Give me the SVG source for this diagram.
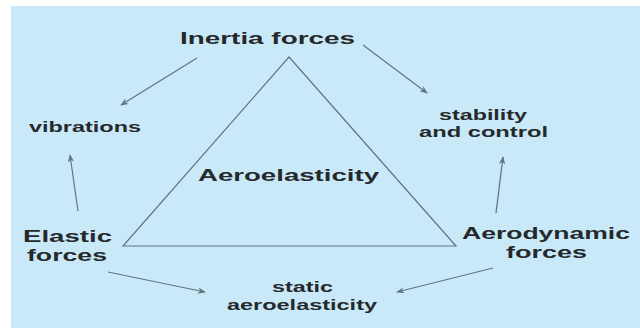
<svg xmlns="http://www.w3.org/2000/svg" width="640" height="329" viewBox="0 0 640 329">
<style>
.t{font-family:"Liberation Sans",Arial,sans-serif;font-weight:bold;fill:#26292b;text-anchor:middle}
.big{font-size:17px}
.two{font-size:16.5px}
.sm{font-size:15px}
.ln{stroke:#5f7580;stroke-width:1.2;fill:none}
</style>
<defs>
<marker id="ah" viewBox="0 0 10 8" refX="9" refY="4" markerWidth="8" markerHeight="6.4" markerUnits="userSpaceOnUse" orient="auto">
<path d="M0,0 L10,4 L0,8 L3,4 Z" fill="#5f7580"/>
</marker>
</defs>
<rect width="640" height="329" fill="#ffffff"/>
<rect x="11" y="6" width="629" height="322" fill="#c9e9f9"/>
<g id="triangle">
<polygon points="289,57 123,246 456,246" class="ln"/>
</g>
<g id="connectors">
<line x1="197" y1="58" x2="121" y2="105" class="ln" marker-end="url(#ah)"/>
<line x1="363" y1="45" x2="427" y2="93" class="ln" marker-end="url(#ah)"/>
<line x1="78" y1="211" x2="70" y2="155" class="ln" marker-end="url(#ah)"/>
<line x1="496" y1="213" x2="503" y2="157" class="ln" marker-end="url(#ah)"/>
<line x1="108" y1="272" x2="205" y2="292" class="ln" marker-end="url(#ah)"/>
<line x1="493" y1="268" x2="397" y2="292" class="ln" marker-end="url(#ah)"/>
</g>
<g id="inertia"><text class="t big" x="267.5" y="44" textLength="175" lengthAdjust="spacingAndGlyphs">Inertia forces</text></g>
<g id="aeroelasticity"><text class="t big" x="288.5" y="181" textLength="181" lengthAdjust="spacingAndGlyphs">Aeroelasticity</text></g>
<g id="vibrations"><text class="t sm" x="85" y="132" textLength="112" lengthAdjust="spacingAndGlyphs">vibrations</text></g>
<g id="stability">
<text class="t sm" x="483" y="120" textLength="88" lengthAdjust="spacingAndGlyphs">stability</text>
<text class="t sm" x="483.5" y="137" textLength="129" lengthAdjust="spacingAndGlyphs">and control</text>
</g>
<g id="elastic">
<text class="t two" x="67.5" y="242" textLength="89" lengthAdjust="spacingAndGlyphs">Elastic</text>
<text class="t two" x="67" y="261" textLength="80" lengthAdjust="spacingAndGlyphs">forces</text>
</g>
<g id="aerodynamic">
<text class="t two" x="546" y="239" textLength="168" lengthAdjust="spacingAndGlyphs">Aerodynamic</text>
<text class="t two" x="546.5" y="258" textLength="81" lengthAdjust="spacingAndGlyphs">forces</text>
</g>
<g id="static">
<text class="t sm" x="302.5" y="292" textLength="61" lengthAdjust="spacingAndGlyphs">static</text>
<text class="t sm" x="302" y="310" textLength="150" lengthAdjust="spacingAndGlyphs">aeroelasticity</text>
</g>
</svg>
